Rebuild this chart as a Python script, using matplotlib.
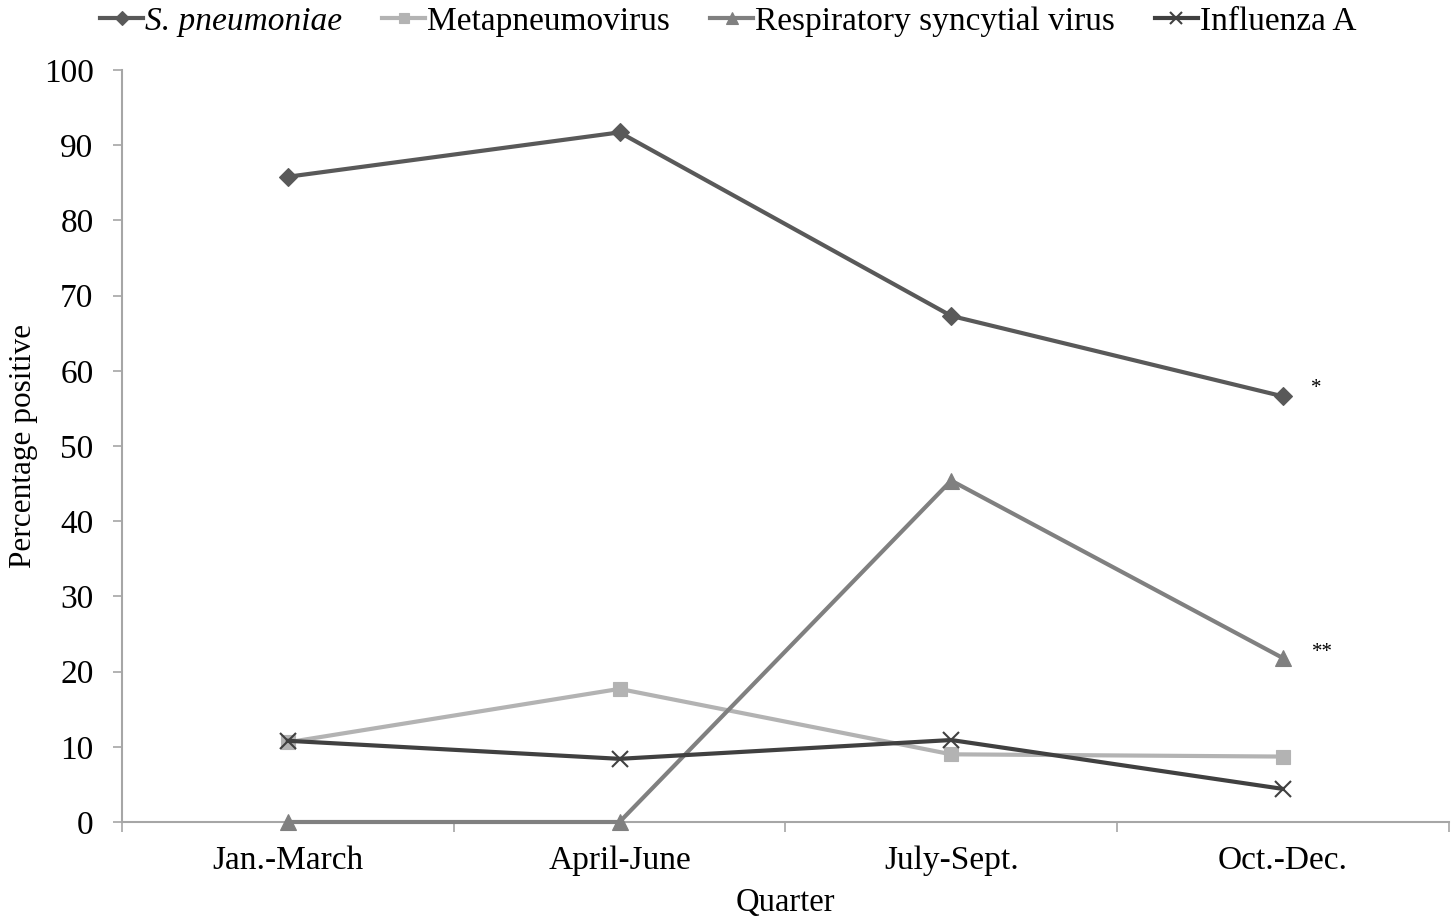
import matplotlib

matplotlib.use("Agg")
import matplotlib.pyplot as plt  # noqa: E402
from matplotlib.ticker import FixedLocator, NullFormatter  # noqa: E402

quarters = ["Jan.-March", "April-June", "July-Sept.", "Oct.-Dec."]
s_pneumoniae = [85.8, 91.7, 67.3, 56.6]
metapneumovirus = [10.6, 17.7, 9.0, 8.7]
rsv = [0.0, 0.0, 45.4, 21.8]
influenza_a = [10.8, 8.4, 10.9, 4.4]

plt.rcParams["font.family"] = ["Liberation Serif", "DejaVu Serif"]

fig = plt.figure(figsize=(14.56, 9.17), dpi=100)
ax = fig.add_axes([0.0838, 0.1036, 0.9112, 0.8201])

x = list(range(len(quarters)))
series = [
    (s_pneumoniae, "S. pneumoniae", "#595959", "D", 9),
    (metapneumovirus, "Metapneumovirus", "#b3b3b3", "s", 10.5),
    (rsv, "Respiratory syncytial virus", "#808080", "^", 11.5),
    (influenza_a, "Influenza A", "#404040", "x", 11),
]
handles = []
for vals, label, color, marker, ms in series:
    (h,) = ax.plot(
        x, vals, color=color, linewidth=3, marker=marker, markersize=ms,
        markeredgewidth=1.5 if marker == "x" else 0.8, markeredgecolor=color,
        markerfacecolor=color, label=label, zorder=3, clip_on=False,
    )
    handles.append(h)

ax.set_xlim(-0.5, 3.5)
ax.set_ylim(0, 100)
ax.set_yticks(range(0, 101, 10))
ax.set_xticks(x)
ax.set_xticklabels(quarters)
ax.xaxis.set_minor_locator(FixedLocator([-0.5, 0.5, 1.5, 2.5, 3.5]))
ax.xaxis.set_minor_formatter(NullFormatter())
ax.tick_params(axis="x", which="major", length=0, pad=17, labelsize=24)
ax.tick_params(axis="x", which="minor", length=7, width=1.2, color="#a6a6a6", direction="out")
ax.tick_params(axis="y", length=6.5, width=1.2, color="#a6a6a6", labelsize=24, pad=14)

for side in ("top", "right"):
    ax.spines[side].set_visible(False)
for side in ("left", "bottom"):
    ax.spines[side].set_color("#a6a6a6")
    ax.spines[side].set_linewidth(1.5)

ax.set_xlabel("Quarter", fontsize=23.5, labelpad=8)
ax.set_ylabel("Percentage positive", fontsize=22.5, labelpad=4)

ax.text(3.1, 57.7, "*", fontsize=15, ha="center", va="center")
ax.text(3.12, 22.5, "**", fontsize=15, ha="center", va="center")

leg = fig.legend(
    handles=handles, loc="upper left", bbox_to_anchor=(0.048, 1.026), ncol=4,
    frameon=False, fontsize=24, handlelength=1.3, handletextpad=0.05,
    columnspacing=1.2, markerscale=0.75,
)
leg.get_texts()[0].set_fontstyle("italic")

fig.savefig("out.png", dpi=100)
